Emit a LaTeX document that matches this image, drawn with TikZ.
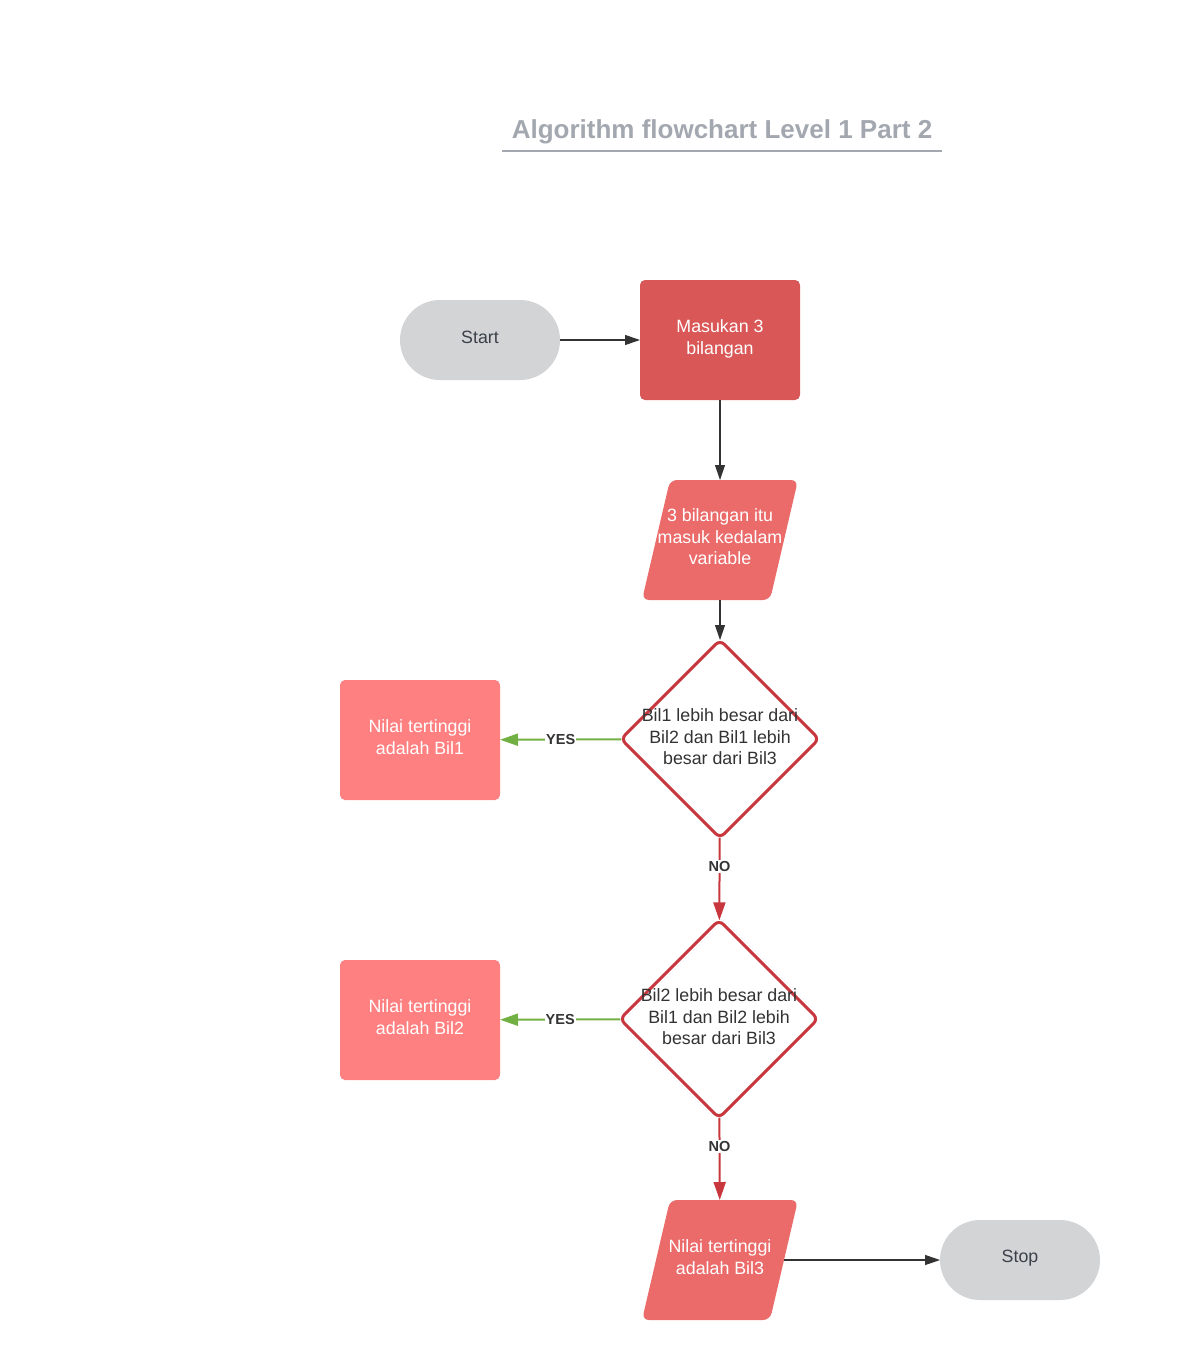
\documentclass[tikz,border=0pt]{standalone}
\usepackage{fontspec}
\setmainfont{Liberation Sans}
\usetikzlibrary{arrows.meta,shapes.geometric}

\definecolor{titlegray}{HTML}{A3A8B0}
\definecolor{termgray}{HTML}{D3D4D6}
\definecolor{termtext}{HTML}{3A414A}
\definecolor{procred}{HTML}{D95757}
\definecolor{iored}{HTML}{EB6B6B}
\definecolor{resred}{HTML}{FF8080}
\definecolor{decred}{HTML}{C8363E}
\definecolor{yesgreen}{HTML}{72B043}
\definecolor{darktext}{HTML}{333333}
\definecolor{linedark}{HTML}{333333}

\begin{document}
\begin{tikzpicture}[
  x=1pt, y=-1pt,
  every node/.style={font=\fontsize{17.8}{21.5}\selectfont, align=center, inner sep=0pt, outer sep=0pt},
  terminal/.style={rectangle, rounded corners=40pt, fill=termgray, text=termtext,
    minimum width=160pt, minimum height=80pt},
  process/.style={rectangle, rounded corners=5pt, fill=procred, text=white,
    minimum width=160pt, minimum height=120pt},
  result/.style={rectangle, rounded corners=5pt, fill=resred,
    minimum width=160pt, minimum height=120pt},
  boxtext/.style={text=white},
  iobox/.style={rectangle, minimum width=128pt, minimum height=120pt},
  iofill/.style={fill=iored, rounded corners=7pt},
  decision/.style={diamond, aspect=1, draw=decred, line width=3pt, fill=white,
    rounded corners=6pt, minimum width=198pt, minimum height=198pt},
  dectext/.style={text=darktext},
  flow/.style={draw=linedark, line width=1.1pt, -{Triangle[length=15pt,width=10pt]}},
  yesflow/.style={draw=yesgreen, line width=2pt, -{Triangle[length=18pt,width=12pt]}},
  noflow/.style={draw=decred, line width=2pt, -{Triangle[length=18pt,width=12pt]}},
  branchlabel/.style={font=\fontsize{14.5}{16}\selectfont\bfseries, text=darktext,
    fill=white, inner sep=1pt}
]
% page area
\fill[white] (0,0) rectangle (1186,1360);
\useasboundingbox (0,0) rectangle (1186,1360);

% title with rule underneath
\node[font=\fontsize{26}{30}\selectfont\bfseries, text=titlegray] (title) at (722,132)
  {Algorithm flowchart Level 1 Part 2};
\draw[titlegray, line width=2pt] (502,151) -- (942,151);

% slanted input/output shape around a named frame node
\newcommand\ioshape[1]{%
  \fill[iofill] ([xshift=14pt]#1.north west) -- ([xshift=14pt]#1.north east)
    -- ([xshift=-14pt]#1.south east) -- ([xshift=-14pt]#1.south west) -- cycle;}

% shapes
\node[terminal] (start) at (480,340) {};
\node[text=termtext] (starttext) at (480,337) {Start};
\node[process] (input) at (720,340) {};
\node[boxtext] (inputtext) at (720,339) {Masukan 3\\bilangan};
\node[iobox] (vars) at (720,540) {};
\ioshape{vars}
\node[boxtext] (varstext) at (720,537) {3 bilangan itu\\masuk kedalam\\variable};
\node[decision] (d1) at (720,739) {};
\node[dectext] (d1text) at (720,737) {Bil1 lebih besar dari\\Bil2 dan Bil1 lebih\\besar dari Bil3};
\node[result] (r1) at (420,740) {};
\node[boxtext] (r1text) at (420,737) {Nilai tertinggi\\adalah Bil1};
\node[decision] (d2) at (719,1019) {};
\node[dectext] (d2text) at (719,1017) {Bil2 lebih besar dari\\Bil1 dan Bil2 lebih\\besar dari Bil3};
\node[result] (r2) at (420,1020) {};
\node[boxtext] (r2text) at (420,1017) {Nilai tertinggi\\adalah Bil2};
\node[iobox] (out) at (720,1260) {};
\ioshape{out}
\node[boxtext] (outtext) at (720,1257) {Nilai tertinggi\\adalah Bil3};
\node[terminal] (stop) at (1020,1260) {};
\node[text=termtext] (stoptext) at (1020,1258) {Stop};

% connectors
\draw[flow] (start) -- (input);
\draw[flow] (input) -- (vars);
\draw[flow] (vars) -- (d1);
\draw[yesflow] (d1) -- node[branchlabel, pos=0.5] {YES} (r1);
\draw[noflow] (d1) -- node[branchlabel, pos=0.35] {NO} (d2);
\draw[yesflow] (d2) -- node[branchlabel, pos=0.5] {YES} (r2);
\draw[noflow] (d2) -- node[branchlabel, pos=0.35] {NO} (out);
\draw[flow] (out) -- (stop);
\end{tikzpicture}
\end{document}
